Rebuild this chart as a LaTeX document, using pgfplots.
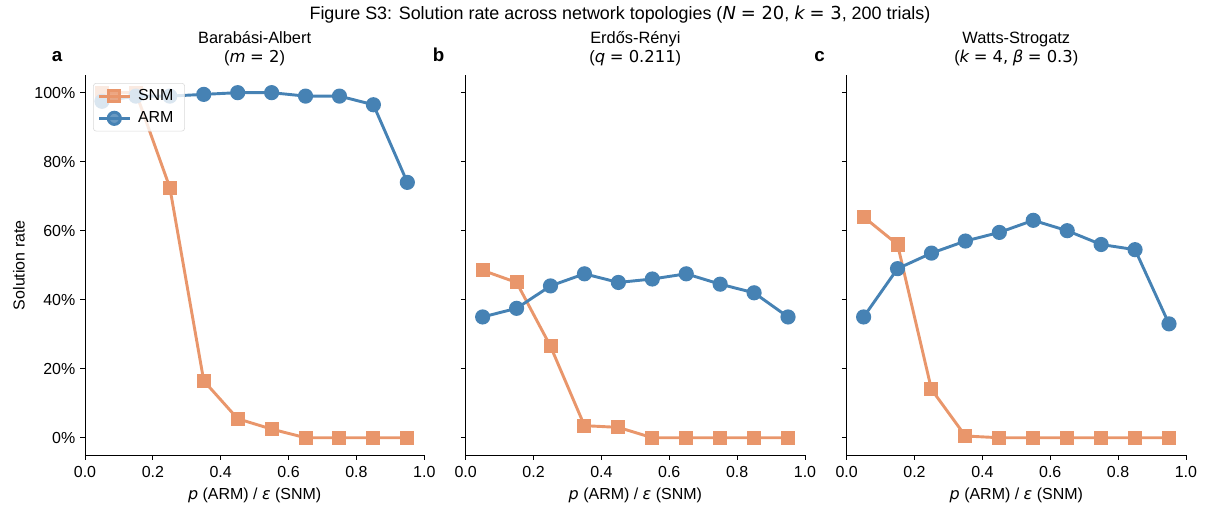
\documentclass[border=0pt]{standalone}
\usepackage{fontspec}
\setmainfont{Liberation Sans}
\newfontfamily\dv{DejaVu Sans}
\usepackage{pgfplots}
\pgfplotsset{compat=1.18}

\definecolor{armblue}{HTML}{4682B4}
\definecolor{snmorange}{HTML}{E9966B}

\newcommand{\mi}[1]{{\dv\itshape #1}}
\newcommand{\mt}[1]{{\dv #1}}

\pgfplotsset{
  panel/.style={
    scale only axis, width=244.3pt, height=273.3pt,
    xmin=0, xmax=1, ymin=-5, ymax=105,
    axis x line*=bottom, axis y line*=left,
    axis line style={line width=0.6pt, -},
    xtick={0,0.2,0.4,0.6,0.8,1},
    xticklabels={0.0,0.2,0.4,0.6,0.8,1.0},
    ytick={0,20,40,60,80,100},
    tick align=outside, major tick length=3.5pt,
    tick style={black, line width=0.6pt},
    tick label style={font=\fontsize{11.5}{13}\selectfont},
    xticklabel style={yshift=-1.5pt},
    label style={font=\fontsize{11.5}{13}\selectfont},
    title style={font=\fontsize{11.8}{13.7}\selectfont, align=center, yshift=-3pt},
    /pgf/number format/assume math mode=true,
    xlabel={\mi{p} (ARM) / \mi{ε} (SNM)},
    clip=false,
  },
  snm/.style={color=snmorange, line width=2.1pt, mark=square*, mark size=4pt},
  arm/.style={color=armblue, line width=2.1pt, mark=*, mark size=4.4pt},
}

\begin{document}
\begin{tikzpicture}
% panel a
\begin{axis}[panel, at={(61.2pt,38.9pt)},
  title={Barabási-Albert\\(\mi{m} \mt{= 2})},
  yticklabels={0\%,20\%,40\%,60\%,80\%,100\%},
  ylabel={Solution rate},
  legend cell align=left,
  legend image code/.code={\draw[line width=2.1pt,mark repeat=2,mark phase=2] plot coordinates {(0pt,0pt)(11pt,0pt)(22pt,0pt)};},
  legend style={at={(0.024,0.98)}, anchor=north west, draw=black!15,
    rounded corners=2pt, fill=white, fill opacity=0.8, draw opacity=1, text opacity=1,
    font=\fontsize{11.5}{13}\selectfont, inner xsep=3pt, inner ysep=2.5pt,
    row sep=2.5pt, nodes={inner xsep=5pt}},
]
\addplot[snm] coordinates {(0.05,100)(0.15,100)(0.25,72.5)(0.35,16.5)(0.45,5.5)(0.55,2.5)(0.65,0)(0.75,0)(0.85,0)(0.95,0)};
\addlegendentry{SNM}
\addplot[arm] coordinates {(0.05,97.5)(0.15,99)(0.25,99)(0.35,99.5)(0.45,100)(0.55,100)(0.65,99)(0.75,99)(0.85,96.5)(0.95,74)};
\addlegendentry{ARM}
\node[font=\fontsize{13.5}{15}\bfseries\selectfont, anchor=base] at (rel axis cs:-0.082,1.037) {a};
\end{axis}
% panel b
\begin{axis}[panel, at={(335.3pt,38.9pt)},
  title={Erdős-Rényi\\(\mi{q} \mt{= 0.211})},
  yticklabels={},
]
\addplot[snm] coordinates {(0.05,48.5)(0.15,45)(0.25,26.5)(0.35,3.5)(0.45,3)(0.55,0)(0.65,0)(0.75,0)(0.85,0)(0.95,0)};
\addplot[arm] coordinates {(0.05,35)(0.15,37.5)(0.25,44)(0.35,47.5)(0.45,45)(0.55,46)(0.65,47.5)(0.75,44.5)(0.85,42)(0.95,35)};
\node[font=\fontsize{13.5}{15}\bfseries\selectfont, anchor=base] at (rel axis cs:-0.08,1.037) {b};
\end{axis}
% panel c
\begin{axis}[panel, at={(609.6pt,38.9pt)},
  title={Watts-Strogatz\\(\mi{k} \mt{= 4,} \mi{β} \mt{= 0.3})},
  yticklabels={},
]
\addplot[snm] coordinates {(0.05,64)(0.15,56)(0.25,14)(0.35,0.5)(0.45,0)(0.55,0)(0.65,0)(0.75,0)(0.85,0)(0.95,0)};
\addplot[arm] coordinates {(0.05,35)(0.15,49)(0.25,53.5)(0.35,57)(0.45,59.5)(0.55,63)(0.65,60)(0.75,56)(0.85,54.5)(0.95,33)};
\node[font=\fontsize{13.5}{15}\bfseries\selectfont, anchor=base] at (rel axis cs:-0.08,1.037) {c};
\end{axis}
\node[font=\fontsize{12.9}{15}\selectfont] at (446.4pt,355.7pt)
  {Figure S3: Solution rate across network topologies (\mi{N} \mt{= 20}, \mi{k} \mt{= 3}, 200 trials)};
\pgfresetboundingbox
\path (0,0) rectangle (870.5pt,366.5pt);
\end{tikzpicture}
\end{document}
